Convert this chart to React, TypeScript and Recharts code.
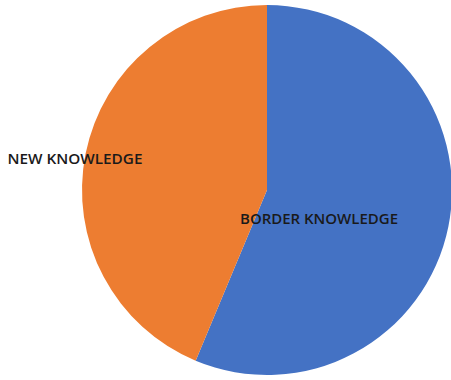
import { PieChart, Pie, Cell } from "recharts";

const categories = ["BORDER KNOWLEDGE", "NEW KNOWLEDGE"];
const shares = [56.3, 43.7];
const colors = ["#4472C4", "#ED7D31"];

const data = categories.map((name, i) => ({ name, value: shares[i] }));

// label placement relative to the pie centre, per slice
const labelOffsets: Record<string, { dx: number; dy: number; w: number }> = {
	"BORDER KNOWLEDGE": { dx: 52, dy: 28, w: 158 },
	"NEW KNOWLEDGE": { dx: -192, dy: -32, w: 135 },
};

function renderLabel(props: any) {
	const { cx, cy, name } = props;
	const o = labelOffsets[name];
	return (
		<text
			x={cx + o.dx}
			y={cy + o.dy}
			textAnchor="middle"
			dominantBaseline="central"
			fill="#1a1a1a"
			fontFamily="'Open Sans', sans-serif"
			fontSize={14}
			fontWeight={600}
			textLength={o.w}
			lengthAdjust="spacingAndGlyphs"
		>
			{name}
		</text>
	);
}

export default function App() {
	return (
		<div style={{ position: "absolute", left: 0, top: 0, width: 451, height: 380, background: "#fff" }}>
			<PieChart width={451} height={380} margin={{ top: 0, right: 0, bottom: 0, left: 0 }}>
				<Pie
					data={data}
					dataKey="value"
					nameKey="name"
					cx={267}
					cy={190}
					outerRadius={185}
					startAngle={90}
					endAngle={-270}
					stroke="none"
					label={renderLabel}
					labelLine={false}
					isAnimationActive={false}
				>
					{data.map((d, i) => (
						<Cell key={d.name} fill={colors[i]} />
					))}
				</Pie>
			</PieChart>
		</div>
	);
}
